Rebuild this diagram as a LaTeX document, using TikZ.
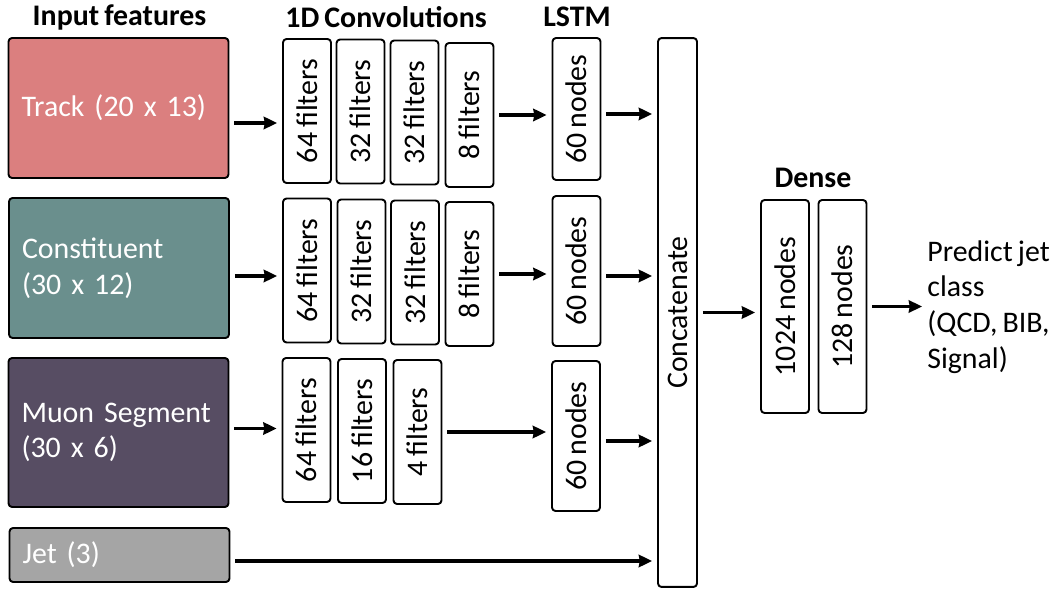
\documentclass[tikz,border=0pt]{standalone}
\usepackage{fontspec}
\setmainfont{Carlito}[WordSpace=0.75]
\usetikzlibrary{arrows.meta}
\definecolor{trackc}{HTML}{DB7F7F}
\definecolor{constc}{HTML}{6A8F8D}
\definecolor{muonc}{HTML}{574D63}
\definecolor{jetc}{HTML}{A5A5A5}
\begin{document}
\begin{tikzpicture}[x=0.02cm,y=-0.02cm,>={Stealth[length=7.5pt,width=7pt,inset=0.5pt]},font=\fontsize{17}{20.3}\selectfont,line join=round,
	inbox/.style={draw,line width=1.1pt,rounded corners=2pt,text=white,minimum width=4.4cm,text width=3.88cm,inner xsep=0.26cm,align=left},
	layer/.style={draw,line width=1.1pt,rounded corners=2pt,rotate=90,minimum width=2.88cm,minimum height=0.96cm},
	title/.style={font=\fontsize{17}{20}\selectfont\bfseries},
	arr/.style={->,line width=2.2pt,shorten <=0.1cm,shorten >=0.1cm}]
	\useasboundingbox (0,0) rectangle (1057,607);
	% titles
	\node[title] (tin) at (119.5,17) {Input features};
	\node[title] (tconv) at (386,17) {1D Convolutions};
	\node[title] (tlstm) at (577,17) {LSTM};
	\node[title] (tdense) at (813,178) {Dense};
	% inputs
	\node[inbox,fill=trackc,minimum height=2.8cm] (track) at (118.5,108) {Track (20 x 13)};
	\node[inbox,fill=constc,minimum height=2.8cm] (const) at (119,268) {Constituent\\(30 x 12)};
	\node[inbox,fill=muonc,minimum height=2.98cm] (muon) at (118.5,432.5) {Muon Segment\\(30 x 6)};
	\node[inbox,fill=jetc,minimum height=1.08cm] (jet) at (119.5,555) {Jet (3)};
	% convolutions
	\foreach \n/\x/\y/\t in {ca1/307/111/64,ca2/360.5/111.5/32,ca3/414.5/112.5/32,ca4/469.5/115/8,
		cb1/307/270.5/64,cb2/361.5/271.5/32,cb3/415/272.5/32,cb4/469.5/274/8,
		cc1/306.5/430/64,cc2/362/431/16,cc3/417.5/432/4}
		\node[layer] (\n) at (\x,\y) {\t\ filters};
	% lstm
	\node[layer,minimum width=2.84cm] (la) at (576.5,109) {60 nodes};
	\node[layer,minimum width=3cm] (lb) at (576.5,271) {60 nodes};
	\node[layer,minimum width=3cm] (lc) at (576,436) {60 nodes};
	\node[layer,minimum width=10.98cm,minimum height=0.78cm] (concat) at (677.5,312.5) {Concatenate};
	% dense
	\node[layer,minimum width=4.26cm] (da) at (785,306.5) {1024 nodes};
	\node[layer,minimum width=4.26cm] (db) at (842.5,306.5) {128 nodes};
	\node[anchor=west,inner xsep=0pt,align=left] (out) at (927,307) {Predict jet\\class\\(QCD, BIB,\\Signal)};
	% arrows
	\draw[arr] ([yshift=-0.3cm]track.east) -- ([yshift=-0.3cm]track.east -| ca1.north);
	\draw[arr] ([yshift=-0.16cm]const.east) -- ([yshift=-0.16cm]const.east -| cb1.north);
	\draw[arr] ([yshift=0.08cm]muon.east) -- ([yshift=0.08cm]muon.east -| cc1.north);
	\draw[arr] ([yshift=-0.12cm]jet.east) -- ([yshift=-0.12cm]jet.east -| concat.north);
	\draw[arr] (ca4.south) -- (ca4.south -| la.north);
	\draw[arr] (cb4.south) -- (cb4.south -| lb.north);
	\draw[arr] (cc3.south) -- (cc3.south -| lc.north);
	\foreach \l in {la,lb,lc} \draw[arr] ([yshift=-0.1cm]\l.south) -- ([yshift=-0.1cm]\l.south -| concat.north);
	\draw[arr] (concat.south) -- (concat.south -| da.north);
	\draw[arr] (db.south) -- (db.south -| out.west);
\end{tikzpicture}
\end{document}
